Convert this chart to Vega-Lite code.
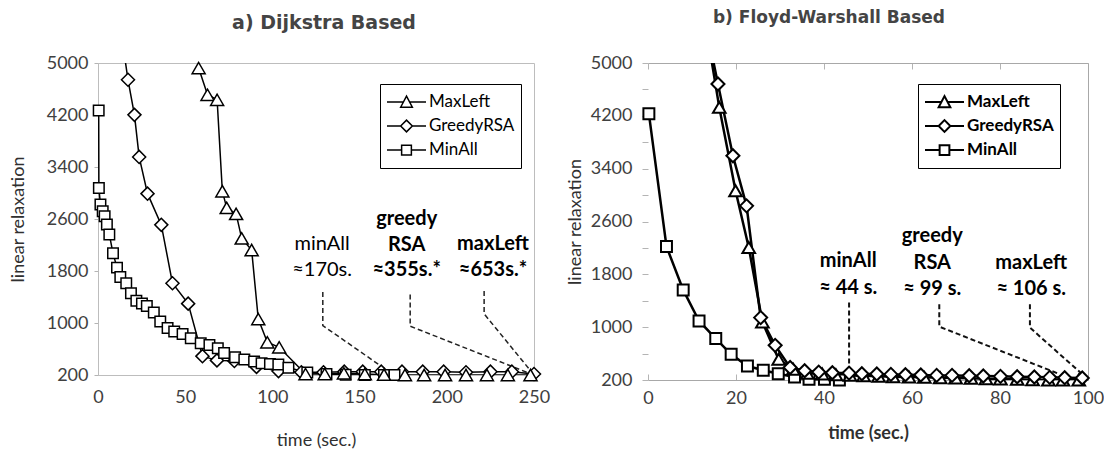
{
  "$schema": "https://vega.github.io/schema/vega-lite/v6.json",
  "background": "white",
  "padding": {"left": 8, "top": 9, "right": 0, "bottom": 0},
  "spacing": 15,
  "config": {
    "font": "Lato",
    "view": {"stroke": null},
    "axis": {"labelFont": "Lato", "labelFontSize": 18, "labelColor": "#404040", "labelFlush": false, "titleFont": "Lato", "titleFontSize": 18, "titleColor": "#303030", "titleFontWeight": "normal", "grid": false, "domainColor": "#b4b4b4", "tickColor": "#b4b4b4"},
    "title": {"font": "DejaVu Sans", "fontSize": 19, "fontWeight": "bold", "color": "#444444"}
  },
  "datasets": {
    "left": [
      {"series": "MinAll", "t": 0.4, "v": 4269}, {"series": "MinAll", "t": 0.5, "v": 3077}, {"series": "MinAll", "t": 1.4, "v": 2823}, {"series": "MinAll", "t": 2.7, "v": 2720}, {"series": "MinAll", "t": 3.8, "v": 2644}, {"series": "MinAll", "t": 5.1, "v": 2517}, {"series": "MinAll", "t": 6.5, "v": 2363}, {"series": "MinAll", "t": 8.6, "v": 2072}, {"series": "MinAll", "t": 10.9, "v": 1852}, {"series": "MinAll", "t": 12.8, "v": 1709}, {"series": "MinAll", "t": 16.2, "v": 1612}, {"series": "MinAll", "t": 18.9, "v": 1459}, {"series": "MinAll", "t": 22.0, "v": 1341}, {"series": "MinAll", "t": 25.2, "v": 1300}, {"series": "MinAll", "t": 28.0, "v": 1260}, {"series": "MinAll", "t": 32.0, "v": 1162}, {"series": "MinAll", "t": 35.7, "v": 1024}, {"series": "MinAll", "t": 39.9, "v": 923}, {"series": "MinAll", "t": 43.7, "v": 871}, {"series": "MinAll", "t": 48.5, "v": 831}, {"series": "MinAll", "t": 53.2, "v": 764}, {"series": "MinAll", "t": 58.9, "v": 687}, {"series": "MinAll", "t": 63.9, "v": 663}, {"series": "MinAll", "t": 68.7, "v": 611}, {"series": "MinAll", "t": 72.3, "v": 540}, {"series": "MinAll", "t": 78.6, "v": 473}, {"series": "MinAll", "t": 83.9, "v": 437}, {"series": "MinAll", "t": 89.5, "v": 407}, {"series": "MinAll", "t": 93.8, "v": 381}, {"series": "MinAll", "t": 98.6, "v": 371}, {"series": "MinAll", "t": 103.4, "v": 361}, {"series": "MinAll", "t": 109.2, "v": 310}, {"series": "MinAll", "t": 120, "v": 240}, {"series": "MinAll", "t": 131, "v": 215}, {"series": "MinAll", "t": 142, "v": 205}, {"series": "MinAll", "t": 153, "v": 200}, {"series": "MinAll", "t": 164, "v": 200}, {"series": "MinAll", "t": 170, "v": 200},
      {"series": "GreedyRSA", "t": 14.5, "v": 5240}, {"series": "GreedyRSA", "t": 17.2, "v": 4742}, {"series": "GreedyRSA", "t": 20.9, "v": 4202}, {"series": "GreedyRSA", "t": 23.6, "v": 3555}, {"series": "GreedyRSA", "t": 28.4, "v": 2990}, {"series": "GreedyRSA", "t": 36.3, "v": 2510}, {"series": "GreedyRSA", "t": 42.7, "v": 1612}, {"series": "GreedyRSA", "t": 51.7, "v": 1298}, {"series": "GreedyRSA", "t": 59.9, "v": 490}, {"series": "GreedyRSA", "t": 68.2, "v": 425}, {"series": "GreedyRSA", "t": 78.2, "v": 415}, {"series": "GreedyRSA", "t": 90.9, "v": 325}, {"series": "GreedyRSA", "t": 103.5, "v": 260}, {"series": "GreedyRSA", "t": 116.6, "v": 241}, {"series": "GreedyRSA", "t": 129.3, "v": 241}, {"series": "GreedyRSA", "t": 141.2, "v": 251}, {"series": "GreedyRSA", "t": 151.8, "v": 251}, {"series": "GreedyRSA", "t": 162.4, "v": 251}, {"series": "GreedyRSA", "t": 174.3, "v": 251}, {"series": "GreedyRSA", "t": 186.2, "v": 251}, {"series": "GreedyRSA", "t": 198.2, "v": 251}, {"series": "GreedyRSA", "t": 211, "v": 241}, {"series": "GreedyRSA", "t": 225, "v": 251}, {"series": "GreedyRSA", "t": 237.3, "v": 251}, {"series": "GreedyRSA", "t": 250, "v": 215},
      {"series": "MaxLeft", "t": 57.7, "v": 4922}, {"series": "MaxLeft", "t": 62.8, "v": 4511}, {"series": "MaxLeft", "t": 68.3, "v": 4434}, {"series": "MaxLeft", "t": 71.3, "v": 3027}, {"series": "MaxLeft", "t": 73.8, "v": 2771}, {"series": "MaxLeft", "t": 79.2, "v": 2679}, {"series": "MaxLeft", "t": 82.4, "v": 2302}, {"series": "MaxLeft", "t": 88.1, "v": 2123}, {"series": "MaxLeft", "t": 91.9, "v": 1061}, {"series": "MaxLeft", "t": 97.1, "v": 703}, {"series": "MaxLeft", "t": 103.9, "v": 626}, {"series": "MaxLeft", "t": 119, "v": 215}, {"series": "MaxLeft", "t": 130, "v": 215}, {"series": "MaxLeft", "t": 141, "v": 226}, {"series": "MaxLeft", "t": 153, "v": 215}, {"series": "MaxLeft", "t": 164, "v": 205}, {"series": "MaxLeft", "t": 176, "v": 200}, {"series": "MaxLeft", "t": 187, "v": 200}, {"series": "MaxLeft", "t": 199, "v": 200}, {"series": "MaxLeft", "t": 211, "v": 200}, {"series": "MaxLeft", "t": 223, "v": 200}, {"series": "MaxLeft", "t": 235, "v": 200}, {"series": "MaxLeft", "t": 248, "v": 200}
    ],
    "right": [
      {"series": "MinAll", "t": 0.2, "v": 4232}, {"series": "MinAll", "t": 4.2, "v": 2221}, {"series": "MinAll", "t": 8.0, "v": 1564}, {"series": "MinAll", "t": 11.6, "v": 1094}, {"series": "MinAll", "t": 15.4, "v": 827}, {"series": "MinAll", "t": 18.9, "v": 589}, {"series": "MinAll", "t": 22.6, "v": 412}, {"series": "MinAll", "t": 26.2, "v": 347}, {"series": "MinAll", "t": 29.6, "v": 296}, {"series": "MinAll", "t": 33.3, "v": 245}, {"series": "MinAll", "t": 36.6, "v": 210}, {"series": "MinAll", "t": 40.1, "v": 210}, {"series": "MinAll", "t": 43.5, "v": 200},
      {"series": "GreedyRSA", "t": 14.0, "v": 5300}, {"series": "GreedyRSA", "t": 15.9, "v": 4682}, {"series": "GreedyRSA", "t": 19.3, "v": 3595}, {"series": "GreedyRSA", "t": 22.4, "v": 2837}, {"series": "GreedyRSA", "t": 25.6, "v": 1145}, {"series": "GreedyRSA", "t": 28.9, "v": 725}, {"series": "GreedyRSA", "t": 32.3, "v": 390}, {"series": "GreedyRSA", "t": 35.6, "v": 340}, {"series": "GreedyRSA", "t": 38.8, "v": 320}, {"series": "GreedyRSA", "t": 41.9, "v": 310}, {"series": "GreedyRSA", "t": 45.7, "v": 305}, {"series": "GreedyRSA", "t": 48.6, "v": 295}, {"series": "GreedyRSA", "t": 52, "v": 290}, {"series": "GreedyRSA", "t": 55.2, "v": 285}, {"series": "GreedyRSA", "t": 58.5, "v": 280}, {"series": "GreedyRSA", "t": 62, "v": 275}, {"series": "GreedyRSA", "t": 65.6, "v": 270}, {"series": "GreedyRSA", "t": 69.1, "v": 270}, {"series": "GreedyRSA", "t": 73, "v": 265}, {"series": "GreedyRSA", "t": 76.2, "v": 260}, {"series": "GreedyRSA", "t": 80.1, "v": 255}, {"series": "GreedyRSA", "t": 83.9, "v": 250}, {"series": "GreedyRSA", "t": 87.8, "v": 245}, {"series": "GreedyRSA", "t": 91.3, "v": 240}, {"series": "GreedyRSA", "t": 94.7, "v": 235}, {"series": "GreedyRSA", "t": 98.7, "v": 230},
      {"series": "MaxLeft", "t": 13.8, "v": 5300}, {"series": "MaxLeft", "t": 16.2, "v": 4328}, {"series": "MaxLeft", "t": 19.9, "v": 3065}, {"series": "MaxLeft", "t": 22.9, "v": 2206}, {"series": "MaxLeft", "t": 26.0, "v": 1079}, {"series": "MaxLeft", "t": 29.7, "v": 513}, {"series": "MaxLeft", "t": 33.0, "v": 362}, {"series": "MaxLeft", "t": 36.2, "v": 300}, {"series": "MaxLeft", "t": 39.6, "v": 290}, {"series": "MaxLeft", "t": 42.7, "v": 280}, {"series": "MaxLeft", "t": 45.9, "v": 270}, {"series": "MaxLeft", "t": 49.0, "v": 265}, {"series": "MaxLeft", "t": 52.4, "v": 255}, {"series": "MaxLeft", "t": 55.7, "v": 250}, {"series": "MaxLeft", "t": 59.3, "v": 245}, {"series": "MaxLeft", "t": 62.8, "v": 240}, {"series": "MaxLeft", "t": 66.4, "v": 235}, {"series": "MaxLeft", "t": 69.9, "v": 230}, {"series": "MaxLeft", "t": 73.4, "v": 225}, {"series": "MaxLeft", "t": 76.8, "v": 220}, {"series": "MaxLeft", "t": 80.1, "v": 215}, {"series": "MaxLeft", "t": 83.9, "v": 210}, {"series": "MaxLeft", "t": 87.4, "v": 205}, {"series": "MaxLeft", "t": 91.0, "v": 200}, {"series": "MaxLeft", "t": 94.3, "v": 200}, {"series": "MaxLeft", "t": 97.9, "v": 200}
    ],
    "leftDash": [
      {"g": "minAll", "i": 1, "t": 128.9, "v": 1476}, {"g": "minAll", "i": 2, "t": 128.9, "v": 961}, {"g": "minAll", "i": 3, "t": 168, "v": 230},
      {"g": "greedy", "i": 1, "t": 179, "v": 1440}, {"g": "greedy", "i": 2, "t": 179, "v": 951}, {"g": "greedy", "i": 3, "t": 246, "v": 241},
      {"g": "maxLeft", "i": 1, "t": 221.4, "v": 1491}, {"g": "maxLeft", "i": 2, "t": 221.4, "v": 1141}, {"g": "maxLeft", "i": 3, "t": 248, "v": 267}
    ],
    "rightDash": [
      {"g": "minAll", "i": 1, "t": 45.7, "v": 1372}, {"g": "minAll", "i": 2, "t": 45.7, "v": 311},
      {"g": "greedy", "i": 1, "t": 66.2, "v": 1347}, {"g": "greedy", "i": 2, "t": 66.2, "v": 1008}, {"g": "greedy", "i": 3, "t": 93.5, "v": 290},
      {"g": "maxLeft", "i": 1, "t": 86.8, "v": 1347}, {"g": "maxLeft", "i": 2, "t": 86.8, "v": 993}, {"g": "maxLeft", "i": 3, "t": 99.5, "v": 240}
    ],
    "leftAnn": [
      {"g": "minAll", "t": 128.5, "v": 2222, "label": "minAll"}, {"g": "minAll", "t": 128.5, "v": 1810, "label": "≈170s."},
      {"g": "greedy", "t": 177, "v": 2607, "label": "greedy"}, {"g": "greedy", "t": 177, "v": 2196, "label": "RSA"}, {"g": "greedy", "t": 177, "v": 1810, "label": "≈355s.*"},
      {"g": "maxLeft", "t": 226.5, "v": 2222, "label": "maxLeft"}, {"g": "maxLeft", "t": 226.5, "v": 1810, "label": "≈653s.*"}
    ],
    "rightAnn": [
      {"g": "minAll", "t": 45.5, "v": 2004, "label": "minAll"}, {"g": "minAll", "t": 45.5, "v": 1600, "label": "≈ 44 s."},
      {"g": "greedy", "t": 64.6, "v": 2383, "label": "greedy"}, {"g": "greedy", "t": 64.6, "v": 1978, "label": "RSA"}, {"g": "greedy", "t": 64.6, "v": 1584, "label": "≈ 99 s."},
      {"g": "maxLeft", "t": 87.1, "v": 1978, "label": "maxLeft"}, {"g": "maxLeft", "t": 87.1, "v": 1584, "label": "≈ 106 s."}
    ]
  },
  "hconcat": [
    {
      "title": {"text": "a) Dijkstra Based", "offset": 14, "frame": "group", "dx": 8},
      "width": 436,
      "height": 312,
      "view": {"stroke": "#bdbdbd"},
      "layer": [
        {
          "data": {"name": "leftDash"},
          "mark": {"type": "line", "strokeDash": [5, 3], "color": "#222222", "strokeWidth": 1.5},
          "encoding": {
            "x": {"field": "t", "type": "quantitative", "scale": {"domain": [0, 250], "nice": false},
                  "axis": {"values": [0, 50, 100, 150, 200, 250], "title": "time (sec.)", "titlePadding": 25, "labelPadding": 13, "tickSize": 0, "domainColor": "#bdbdbd"}},
            "y": {"field": "v", "type": "quantitative", "scale": {"domain": [200, 5000], "nice": false, "zero": false},
                  "axis": {"values": [200, 1000, 1800, 2600, 3400, 4200, 5000], "format": "d", "title": "linear relaxation", "titlePadding": 19, "labelPadding": 6, "tickSize": 4, "domainColor": "#bdbdbd"}},
            "detail": {"field": "g"},
            "order": {"field": "i"}
          }
        },
        {
          "data": {"name": "left"},
          "mark": {"type": "line", "color": "black", "strokeWidth": 1.5, "clip": true},
          "encoding": {"x": {"field": "t", "type": "quantitative"}, "y": {"field": "v", "type": "quantitative"}, "detail": {"field": "series"}}
        },
        {
          "data": {"name": "left"},
          "transform": [{"filter": "datum.series === 'GreedyRSA' && datum.v <= 5000"}],
          "mark": {"type": "point", "shape": "diamond", "filled": true, "fill": "white", "stroke": "black", "strokeWidth": 1.5, "size": 170, "opacity": 1},
          "encoding": {"x": {"field": "t", "type": "quantitative"}, "y": {"field": "v", "type": "quantitative"}}
        },
        {
          "data": {"name": "left"},
          "transform": [{"filter": "datum.series === 'MinAll'"}],
          "mark": {"type": "point", "shape": "square", "filled": true, "fill": "white", "stroke": "black", "strokeWidth": 1.5, "size": 110, "opacity": 1},
          "encoding": {"x": {"field": "t", "type": "quantitative"}, "y": {"field": "v", "type": "quantitative"}}
        },
        {
          "data": {"name": "left"},
          "transform": [{"filter": "datum.series === 'MaxLeft'"}],
          "mark": {"type": "point", "shape": "triangle-up", "filled": true, "fill": "white", "stroke": "black", "strokeWidth": 1.5, "size": 170, "opacity": 1},
          "encoding": {"x": {"field": "t", "type": "quantitative"}, "y": {"field": "v", "type": "quantitative"}}
        },
        {
          "data": {"name": "leftAnn"},
          "transform": [{"filter": "datum.g === 'minAll'"}],
          "mark": {"type": "text", "font": "Lato", "fontSize": 20, "color": "black", "align": "center", "baseline": "middle"},
          "encoding": {"x": {"field": "t", "type": "quantitative"}, "y": {"field": "v", "type": "quantitative"}, "text": {"field": "label"}}
        },
        {
          "data": {"name": "leftAnn"},
          "transform": [{"filter": "datum.g !== 'minAll'"}],
          "mark": {"type": "text", "font": "Lato", "fontSize": 20, "fontWeight": "bold", "color": "black", "align": "center", "baseline": "middle"},
          "encoding": {"x": {"field": "t", "type": "quantitative"}, "y": {"field": "v", "type": "quantitative"}, "text": {"field": "label"}}
        },
        {
          "data": {"name": "left"},
          "mark": {"type": "point", "opacity": 0},
          "encoding": {
            "x": {"field": "t", "type": "quantitative"},
            "y": {"field": "v", "type": "quantitative"},
            "shape": {"field": "series", "type": "nominal",
              "scale": {"domain": ["MaxLeft", "GreedyRSA", "MinAll"], "range": ["M-1,0H-0.158M0.158,0H1M-0.3,0.27L0,-0.3L0.3,0.27Z", "M-1,0H-0.3M0.3,0H1M-0.3,0L0,-0.3L0.3,0L0,0.3Z", "M-1,0H-0.25M0.25,0H1M-0.25,-0.25H0.25V0.25H-0.25Z"]},
              "legend": {"orient": "none", "legendX": 282, "legendY": 21, "title": null, "symbolSize": 1521, "symbolStrokeColor": "black", "symbolFillColor": "white", "symbolStrokeWidth": 1.5, "symbolOpacity": 1, "labelFont": "Lato", "labelFontSize": 17, "labelColor": "black", "strokeColor": "black", "fillColor": "white", "padding": 6, "clipHeight": 24, "rowPadding": 0, "labelOffset": 2}}
          }
        }
      ]
    },
    {
      "title": {"text": "b) Floyd-Warshall Based", "offset": 13, "fontSize": 17, "frame": "bounds", "dx": -6},
      "width": 440,
      "height": 317,
      "view": {"stroke": null},
      "resolve": {"axis": {"x": "independent", "y": "independent"}},
      "layer": [
        {
          "data": {"name": "rightDash"},
          "mark": {"type": "line", "strokeDash": [5, 3], "color": "#111111", "strokeWidth": 2},
          "encoding": {
            "x": {"field": "t", "type": "quantitative", "scale": {"domain": [0, 100], "nice": false},
                  "axis": {"orient": "bottom", "values": [0, 20, 40, 60, 80, 100], "title": "time (sec.)", "titleFontWeight": "bold", "titlePadding": 17, "labelPadding": 15, "tickSize": -6, "domainColor": "#a8a8a8"}},
            "y": {"field": "v", "type": "quantitative", "scale": {"domain": [200, 5000], "nice": false, "zero": false},
                  "axis": {"orient": "left", "values": [200, 600, 1000, 1400, 1800, 2200, 2600, 3000, 3400, 3800, 4200, 4600, 5000], "format": "d", "labelExpr": "(datum.value - 200) % 800 === 0 ? datum.label : ''", "title": "linear relaxation", "titlePadding": 6, "labelPadding": 10, "tickSize": 6, "domain": false}},
            "detail": {"field": "g"},
            "order": {"field": "i"}
          }
        },
        {
          "data": {"name": "right"},
          "mark": {"type": "point", "opacity": 0},
          "encoding": {
            "x": {"field": "t", "type": "quantitative", "axis": {"orient": "top", "labels": false, "title": null, "values": [0, 20, 40, 60, 80, 100], "tickSize": -6, "domainColor": "#a8a8a8"}},
            "y": {"field": "v", "type": "quantitative", "axis": {"orient": "right", "labels": false, "ticks": false, "title": null, "domainColor": "#a8a8a8"}}
          }
        },
        {
          "data": {"name": "right"},
          "mark": {"type": "line", "color": "black", "strokeWidth": 2.5, "clip": true},
          "encoding": {"x": {"field": "t", "type": "quantitative", "axis": null}, "y": {"field": "v", "type": "quantitative", "axis": null}, "detail": {"field": "series"}}
        },
        {
          "data": {"name": "right"},
          "transform": [{"filter": "datum.series === 'MinAll'"}],
          "mark": {"type": "point", "shape": "square", "filled": true, "fill": "white", "stroke": "black", "strokeWidth": 2, "size": 120, "opacity": 1},
          "encoding": {"x": {"field": "t", "type": "quantitative", "axis": null}, "y": {"field": "v", "type": "quantitative", "axis": null}}
        },
        {
          "data": {"name": "right"},
          "transform": [{"filter": "datum.series === 'MaxLeft' && datum.v <= 5000"}],
          "mark": {"type": "point", "shape": "triangle-up", "filled": true, "fill": "white", "stroke": "black", "strokeWidth": 2, "size": 160, "opacity": 1},
          "encoding": {"x": {"field": "t", "type": "quantitative", "axis": null}, "y": {"field": "v", "type": "quantitative", "axis": null}}
        },
        {
          "data": {"name": "right"},
          "transform": [{"filter": "datum.series === 'GreedyRSA' && datum.v <= 5000"}],
          "mark": {"type": "point", "shape": "diamond", "filled": true, "fill": "white", "stroke": "black", "strokeWidth": 2, "size": 170, "opacity": 1},
          "encoding": {"x": {"field": "t", "type": "quantitative", "axis": null}, "y": {"field": "v", "type": "quantitative", "axis": null}}
        },
        {
          "data": {"name": "rightAnn"},
          "mark": {"type": "text", "font": "Lato", "fontSize": 20, "fontWeight": "bold", "color": "black", "align": "center", "baseline": "middle"},
          "encoding": {"x": {"field": "t", "type": "quantitative", "axis": null}, "y": {"field": "v", "type": "quantitative", "axis": null}, "text": {"field": "label"}}
        },
        {
          "data": {"name": "right"},
          "mark": {"type": "point", "opacity": 0},
          "encoding": {
            "x": {"field": "t", "type": "quantitative", "axis": null},
            "y": {"field": "v", "type": "quantitative", "axis": null},
            "shape": {"field": "series", "type": "nominal",
              "scale": {"domain": ["MaxLeft", "GreedyRSA", "MinAll"], "range": ["M-1,0H-0.158M0.158,0H1M-0.3,0.27L0,-0.3L0.3,0.27Z", "M-1,0H-0.3M0.3,0H1M-0.3,0L0,-0.3L0.3,0L0,0.3Z", "M-1,0H-0.25M0.25,0H1M-0.25,-0.25H0.25V0.25H-0.25Z"]},
              "legend": {"orient": "none", "legendX": 270, "legendY": 21, "title": null, "symbolSize": 1521, "symbolStrokeColor": "black", "symbolFillColor": "white", "symbolStrokeWidth": 2, "symbolOpacity": 1, "labelFont": "Lato", "labelFontSize": 17, "labelFontWeight": "bold", "labelColor": "black", "strokeColor": "black", "fillColor": "white", "padding": 6, "clipHeight": 24, "rowPadding": 0, "labelOffset": 2}}
          }
        }
      ]
    }
  ],
  "resolve": {"scale": {"x": "independent", "y": "independent", "shape": "independent"}, "legend": {"shape": "independent"}}
}
